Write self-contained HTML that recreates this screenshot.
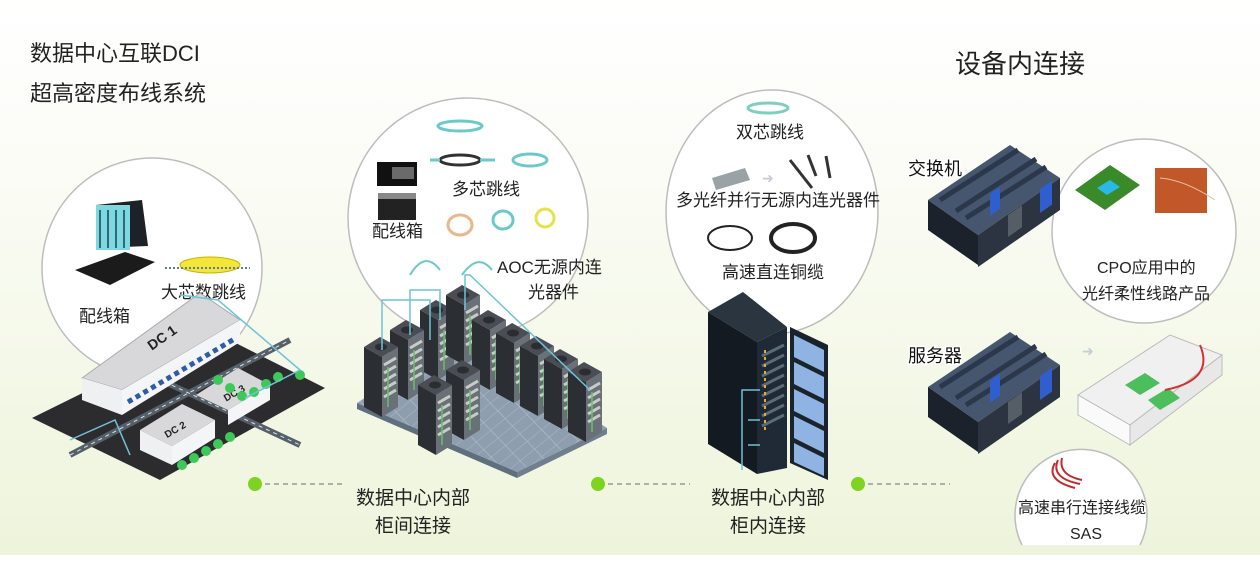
<!DOCTYPE html>
<html><head><meta charset="utf-8"><style>
html,body{margin:0;padding:0}
body{width:1260px;height:564px;overflow:hidden;font-family:"Liberation Sans","Noto Sans CJK SC",sans-serif}
</style></head><body>
<svg width="1260" height="564" viewBox="0 0 1260 564" xmlns="http://www.w3.org/2000/svg" font-family="Liberation Sans, Noto Sans CJK SC, sans-serif">
<defs>
<linearGradient id="bg" x1="0" y1="0" x2="0" y2="1">
<stop offset="0" stop-color="#ffffff"/><stop offset="0.3" stop-color="#fbfcf6"/><stop offset="1" stop-color="#edf4da"/>
</linearGradient>
<pattern id="grid" width="14" height="14" patternUnits="userSpaceOnUse" patternTransform="skewX(-30) rotate(33)">
<rect width="14" height="14" fill="#8e9eae"/><path d="M0 0H14M0 0V14" stroke="#b4c0cc" stroke-width="1"/>
</pattern>
<g id="rack">
<polygon points="0,10 16,0 34,10 18,20" fill="#4a4e54"/>
<ellipse cx="17" cy="10" rx="6" ry="3.5" fill="#2a2d31"/>
<polygon points="0,10 18,20 18,80 0,70" fill="#2b2e33"/>
<polygon points="18,20 34,10 34,70 18,80" fill="#6a7078"/>
<path d="M20 28L32 21M20 36L32 29M20 44L32 37M20 52L32 45M20 60L32 53" stroke="#c9ccc6" stroke-width="3"/>
<path d="M24 30V70" stroke="#66c36a" stroke-width="1.5"/>
</g>
<g id="server">
<polygon points="0,55 82,0 132,33 50,90" fill="#46566e"/>
<path d="M12 55L90 5M28 66L108 14M38 73L118 22" stroke="#2b384c" stroke-width="5"/>
<polygon points="0,55 50,90 50,120 0,85" fill="#1c222c"/>
<polygon points="50,90 132,33 132,65 50,122" fill="#2c3442"/>
<rect x="56" y="0" width="10" height="22" fill="#2f5fcf" transform="translate(6,88) skewY(-35)"/>
<rect x="0" y="0" width="12" height="24" fill="#2f5fcf" transform="translate(112,44) skewY(-35)"/>
<rect x="0" y="0" width="14" height="22" fill="#555d66" transform="translate(80,70) skewY(-35)"/>
</g>
</defs>
<rect width="1260" height="564" fill="url(#bg)"/>
<rect y="555" width="1260" height="9" fill="#ffffff"/>

<text x="30" y="61" font-size="22" fill="#222">数据中心互联DCI</text>
<text x="30" y="101" font-size="22" fill="#222">超高密度布线系统</text>
<text x="955" y="73" font-size="26" fill="#222">设备内连接</text>

<g fill="#ffffff" stroke="#bdbdbd" stroke-width="1.5">
<circle cx="152" cy="268" r="110"/>
<circle cx="468" cy="218" r="120"/>
<ellipse cx="772" cy="212" rx="106" ry="122"/>
<circle cx="1144" cy="231" r="92"/>
</g>

<polygon points="96,205 142,200 148,246 100,248" fill="#1d2226"/>
<polygon points="96,205 130,205 130,250 96,250" fill="#7fd8e0"/>
<path d="M100 210V248M108 210V248M116 210V248M124 210V248" stroke="#2a6b7a" stroke-width="2"/>
<polygon points="75,270 125,252 155,262 110,285" fill="#1b1b1b"/>
<ellipse cx="210" cy="265" rx="30" ry="8" fill="#f3e53a" stroke="#c9b400"/>
<path d="M165 268L250 268" stroke="#5a7ba0" stroke-width="2" stroke-dasharray="2 2"/>
<text x="161" y="298" font-size="17" fill="#222">大芯数跳线</text>
<text x="79" y="322" font-size="17" fill="#222">配线箱</text>

<ellipse cx="460" cy="126" rx="22" ry="5" fill="none" stroke="#6cc9c9" stroke-width="3"/>
<rect x="377" y="162" width="40" height="24" fill="#111"/><rect x="392" y="167" width="22" height="12" fill="#6a6a6a"/>
<rect x="378" y="198" width="38" height="22" fill="#222"/><rect x="378" y="193" width="38" height="6" fill="#888"/>
<ellipse cx="460" cy="160" rx="20" ry="5" fill="none" stroke="#333" stroke-width="3"/>
<path d="M430 160H440M480 160H495" stroke="#6cc9c9" stroke-width="3"/>
<ellipse cx="530" cy="160" rx="17" ry="6" fill="none" stroke="#6cc9c9" stroke-width="3"/>
<text x="452" y="195" font-size="17" fill="#222">多芯跳线</text>
<text x="372" y="237" font-size="17" fill="#222">配线箱</text>
<ellipse cx="460" cy="225" rx="12" ry="10" fill="none" stroke="#e8b88a" stroke-width="3"/>
<ellipse cx="503" cy="220" rx="10" ry="9" fill="none" stroke="#6cc9c9" stroke-width="3"/>
<ellipse cx="545" cy="218" rx="9" ry="9" fill="none" stroke="#e6e24c" stroke-width="3"/>
<path d="M410 275Q425 250 440 270M462 275Q478 252 492 270" fill="none" stroke="#6cc9c9" stroke-width="2"/>
<text x="497" y="273" font-size="17" fill="#222">AOC无源内连</text>
<text x="528" y="298" font-size="17" fill="#222">光器件</text>

<ellipse cx="768" cy="108" rx="20" ry="5" fill="none" stroke="#7fcfc0" stroke-width="3"/>
<text x="736" y="138" font-size="17" fill="#222">双芯跳线</text>
<polygon points="712,178 745,168 750,180 716,190" fill="#9aa2a6"/>
<text x="762" y="183" font-size="14" fill="#c5ccd3">➜</text>
<path d="M790 160L812 188M808 155L816 176M826 156L830 178" stroke="#333" stroke-width="3"/>
<text x="676" y="206" font-size="17" fill="#222">多光纤并行无源内连光器件</text>
<ellipse cx="730" cy="238" rx="22" ry="12" fill="none" stroke="#222" stroke-width="2"/>
<ellipse cx="793" cy="238" rx="22" ry="14" fill="none" stroke="#222" stroke-width="4"/>
<text x="722" y="278" font-size="17" fill="#222">高速直连铜缆</text>

<polygon points="1075,190 1110,165 1140,185 1105,210" fill="#3a8a2a"/>
<polygon points="1097,188 1110,180 1120,187 1107,195" fill="#2ab8e8"/>
<rect x="1155" y="168" width="52" height="45" fill="#c2572a"/>
<path d="M1160 178Q1185 180 1215 200" stroke="#e6c0a0" fill="none"/>
<text x="1097" y="273" font-size="16" fill="#222">CPO应用中的</text>
<text x="1082" y="299" font-size="16" fill="#222">光纤柔性线路产品</text>

<polygon points="32,418 210,330 325,388 160,480" fill="#2c2c2e"/>
<path d="M70 455L290 340M150 375L300 445" stroke="#56606a" stroke-width="6"/>
<path d="M70 455L290 340M150 375L300 445" stroke="#dfe3e6" stroke-width="1" stroke-dasharray="4 4"/>
<polygon points="82,378 200,293 240,320 122,390" fill="#d8d8da" stroke="#aaa"/>
<polygon points="82,378 122,390 122,415 82,400" fill="#eef0f2"/>
<polygon points="122,390 240,320 240,342 122,415" fill="#f4f5f6"/>
<path d="M128 402L236 338" stroke="#2e5ca8" stroke-width="5" stroke-dasharray="5 4"/>
<text x="150" y="345" font-size="14" font-weight="bold" fill="#222" transform="rotate(-35 160 345)">DC 1</text>
<polygon points="196,395 238,368 270,385 228,410" fill="#d8d8da"/>
<polygon points="228,410 270,385 270,400 228,425" fill="#f4f5f6"/>
<text x="224" y="398" font-size="10" font-weight="bold" fill="#222" transform="rotate(-30 232 396)">DC 3</text>
<polygon points="140,430 182,404 215,420 172,446" fill="#d8d8da"/>
<polygon points="140,430 172,446 172,465 140,450" fill="#eef0f2"/>
<polygon points="172,446 215,420 215,438 172,465" fill="#f4f5f6"/>
<text x="165" y="435" font-size="10" font-weight="bold" fill="#222" transform="rotate(-30 172 433)">DC 2</text>
<g fill="#3ec85a">
<circle cx="182" cy="465" r="5"/><circle cx="194" cy="458" r="5"/><circle cx="206" cy="451" r="5"/><circle cx="218" cy="444" r="5"/><circle cx="230" cy="437" r="5"/>
<circle cx="218" cy="380" r="5"/><circle cx="230" cy="388" r="5"/><circle cx="242" cy="396" r="5"/><circle cx="254" cy="392" r="5"/><circle cx="266" cy="384" r="5"/><circle cx="278" cy="377" r="5"/><circle cx="300" cy="375" r="5"/>
</g>
<path d="M180 295L218 300L300 370L245 398M70 440L115 420L130 455" fill="none" stroke="#6ec3d6" stroke-width="1.5"/>

<polygon points="357,403 460,335 607,428 517,472" fill="url(#grid)"/>
<polygon points="357,403 517,472 517,478 357,409" fill="#5f6f7d"/>
<polygon points="517,472 607,428 607,434 517,478" fill="#6f7f8d"/>
<use href="#rack" x="420" y="300"/>
<use href="#rack" x="446" y="285"/>
<use href="#rack" x="472" y="310"/>
<use href="#rack" x="496" y="323"/>
<use href="#rack" x="520" y="336"/>
<use href="#rack" x="544" y="349"/>
<use href="#rack" x="568" y="362"/>
<use href="#rack" x="390" y="320"/>
<use href="#rack" x="364" y="337"/>
<use href="#rack" x="446" y="360"/>
<use href="#rack" x="418" y="375"/>
<path d="M382 350V300H430V340M410 335V290H440V320M465 310V275H470L590 390" fill="none" stroke="#6ec3d6" stroke-width="1.5"/>

<polygon points="708,312 743,292 787,327 757,342" fill="#2a3540"/>
<polygon points="708,312 757,342 757,474 708,444" fill="#131a22"/>
<polygon points="757,342 787,327 787,468 757,474" fill="#1f2a36"/>
<path d="M762 356L784 345M762 366L784 355M762 376L784 365M762 386L784 375M762 396L784 385M762 406L784 395M762 416L784 405M762 426L784 415" stroke="#5d6a78" stroke-width="3"/>
<path d="M765 350V430" stroke="#e0b030" stroke-width="2" stroke-dasharray="3 4"/>
<polygon points="790,327 828,345 828,480 790,463" fill="#1a232c"/>
<g fill="#8fb4e4">
<polygon points="794,335 824,350 824,372 794,357"/>
<polygon points="794,362 824,377 824,399 794,384"/>
<polygon points="794,389 824,404 824,426 794,411"/>
<polygon points="794,416 824,431 824,453 794,438"/>
<polygon points="794,443 824,458 824,476 794,462"/>
</g>
<path d="M742 470V390H760M748 420H760M748 445H760" fill="none" stroke="#6ec3d6" stroke-width="1.5"/>

<use href="#server" x="928" y="145"/>
<use href="#server" x="928" y="332"/>
<text x="908" y="175" font-size="18" fill="#111" paint-order="stroke" stroke="#fff" stroke-width="3">交换机</text>
<text x="908" y="362" font-size="18" fill="#111" paint-order="stroke" stroke="#fff" stroke-width="3">服务器</text>
<text x="1082" y="356" font-size="14" fill="#c5ccd3">➜</text>

<polygon points="1078,395 1170,335 1222,355 1130,425" fill="#f0f0f0" stroke="#bbb"/>
<polygon points="1078,395 1130,425 1130,445 1078,415" fill="#fafafa" stroke="#bbb"/>
<polygon points="1130,425 1222,355 1222,375 1130,445" fill="#e8e8e8" stroke="#bbb"/>
<polygon points="1125,385 1145,373 1160,383 1140,395" fill="#4cbf5c"/>
<polygon points="1148,400 1168,388 1180,398 1160,410" fill="#4cbf5c"/>
<path d="M1200 345Q1215 380 1165 390" stroke="#d63030" stroke-width="2" fill="none"/>

<path d="M1022 545A66 66 0 1 1 1140 545" fill="#fff" stroke="#bdbdbd" stroke-width="1.5"/>
<path d="M1055 463Q1045 480 1075 488M1058 460Q1050 478 1080 484M1062 458Q1058 475 1082 480" stroke="#c42a2a" stroke-width="2" fill="none"/>
<text x="1018" y="513" font-size="16" fill="#222">高速串行连接线缆</text>
<text x="1070" y="539" font-size="16" fill="#222">SAS</text>

<g fill="#7ed321">
<circle cx="255" cy="484" r="7"/><circle cx="598" cy="484" r="7"/><circle cx="858" cy="484" r="7"/>
</g>
<g stroke="#999" stroke-width="1.5" stroke-dasharray="5 4">
<path d="M265 484H345M608 484H690M868 484H950"/>
</g>
<text x="413" y="504" font-size="19" fill="#222" text-anchor="middle">数据中心内部</text>
<text x="413" y="532" font-size="19" fill="#222" text-anchor="middle">柜间连接</text>
<text x="768" y="504" font-size="19" fill="#222" text-anchor="middle">数据中心内部</text>
<text x="768" y="532" font-size="19" fill="#222" text-anchor="middle">柜内连接</text>
</svg>
</body></html>
